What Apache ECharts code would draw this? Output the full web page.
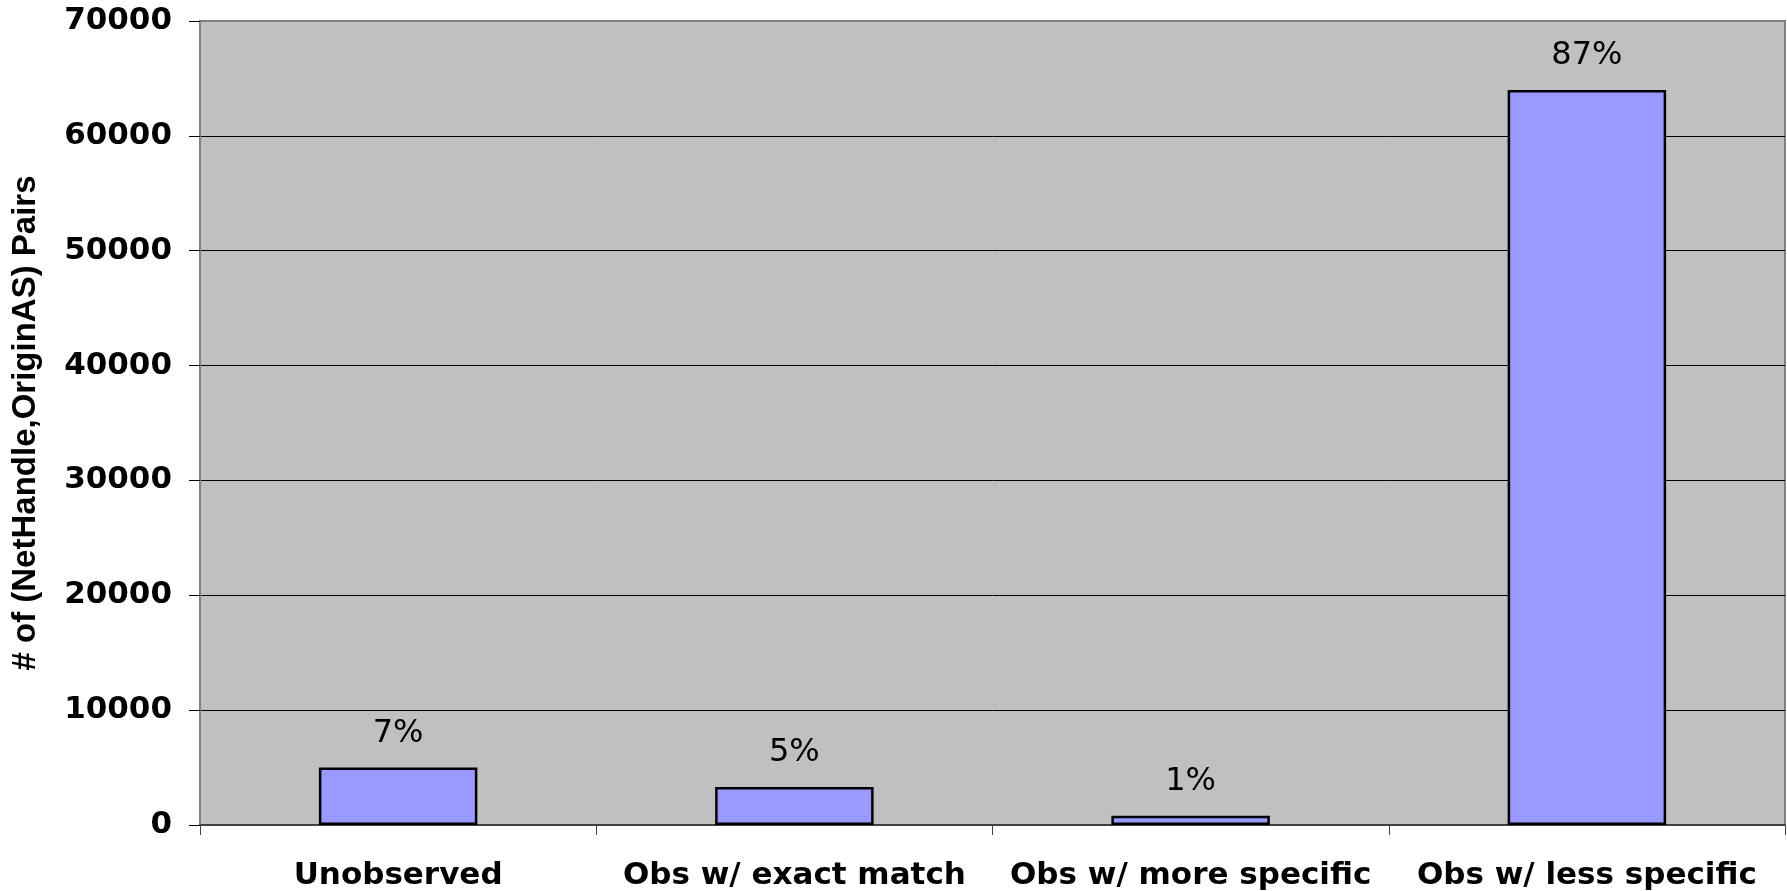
<!DOCTYPE html>
<html>
<head>
<meta charset="utf-8">
<script src="https://cdn.jsdelivr.net/npm/echarts@6/dist/echarts.min.js"></script>
<style>
  html, body { margin: 0; padding: 0; background: #ffffff; }
  #chart { width: 1787px; height: 891px; }
</style>
</head>
<body>
<div id="chart"></div>
<script>
// Categories of (NetHandle, OriginAS) pairs by observation status
const categories = ['Unobserved', 'Obs w/ exact match', 'Obs w/ more specific', 'Obs w/ less specific'];
// Number of pairs in each category
const pairCounts = [5000, 3300, 800, 64000];
// Share of all pairs, as printed above each bar
const shareLabels = ['7%', '5%', '1%', '87%'];
// Value axis ticks
const yTicks = [0, 10000, 20000, 30000, 40000, 50000, 60000, 70000];

const WIDE = '"DejaVu Sans", Verdana, sans-serif';
const NARROW = '"Liberation Sans", Arial, sans-serif';

const chart = echarts.init(document.getElementById('chart'), null, { renderer: 'canvas' });

chart.setOption({
  backgroundColor: '#ffffff',
  animation: false,
  grid: {
    left: 200, right: 2, top: 21, bottom: 66,
    show: true,
    backgroundColor: '#C0C0C0',
    borderColor: '#808080',
    borderWidth: 2
  },
  xAxis: {
    type: 'category',
    data: categories,
    axisLine: { show: true, lineStyle: { color: '#404040', width: 2 } },
    axisTick: { show: true, length: 10, inside: false, lineStyle: { color: '#404040', width: 1 } },
    axisLabel: {
      margin: 35,
      color: '#000',
      fontFamily: WIDE,
      fontWeight: 'bold',
      fontSize: 31,
      interval: 0
    },
    splitLine: { show: false }
  },
  yAxis: {
    type: 'value',
    min: yTicks[0],
    max: yTicks[yTicks.length - 1],
    interval: 10000,
    name: '# of (NetHandle,OriginAS) Pairs',
    nameLocation: 'middle',
    nameGap: 158,
    nameRotate: 90,
    nameTextStyle: {
      color: '#000',
      fontFamily: NARROW,
      fontWeight: 'bold',
      fontSize: 33
    },
    axisLine: { show: true, lineStyle: { color: '#808080', width: 2 } },
    axisTick: { show: true, length: 11, inside: false, lineStyle: { color: '#000', width: 1 } },
    axisLabel: {
      margin: 28,
      color: '#000',
      fontFamily: WIDE,
      fontWeight: 'bold',
      fontSize: 31,
      formatter: function (v) { return String(v); }
    },
    splitLine: {
      show: true,
      lineStyle: {
        color: ['#000', '#000', '#000', '#000', '#000', '#000', '#000', '#808080'],
        width: 1
      }
    }
  },
  series: [{
    type: 'bar',
    data: pairCounts,
    barWidth: '40%',
    itemStyle: {
      color: '#9999FF',
      borderColor: '#000',
      borderWidth: 2.5
    },
    label: {
      show: true,
      position: 'top',
      distance: 18,
      color: '#000',
      fontFamily: WIDE,
      fontSize: 32,
      formatter: function (p) { return shareLabels[p.dataIndex]; }
    }
  }]
});
</script>
</body>
</html>
